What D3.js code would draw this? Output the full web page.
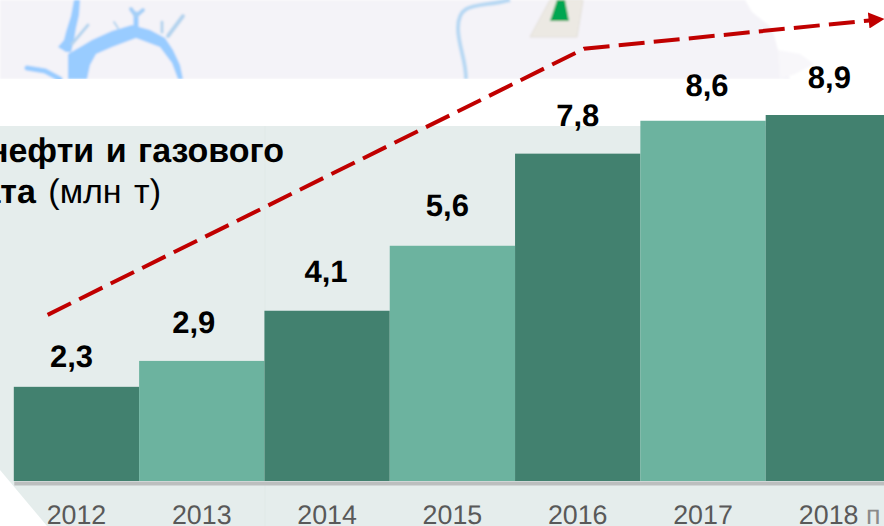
<!DOCTYPE html>
<html><head><meta charset="utf-8">
<style>html,body{margin:0;padding:0;background:#fff;overflow:hidden}svg{display:block}text{font-family:"Liberation Sans",Arial,sans-serif;text-rendering:geometricPrecision}</style>
<script src="https://cdn.jsdelivr.net/npm/d3@7/dist/d3.min.js"></script></head><body>
<script>
const years=["2012","2013","2014","2015","2016","2017","2018"];
const labels=["2,3","2,9","4,1","5,6","7,8","8,6","8,9"];
const barHeights=[2.29,2.92,4.14,5.72,7.96,8.76,8.9];
const trendSteps=[-0.23,4.05,6.33];
const trendValues=[4.04,10.51,11.2];

const W=884,H=526;
const svg=d3.select("body").append("svg").attr("width",W).attr("height",H);
const x=d3.scaleBand().domain(years).range([13.8,891]);
const y=d3.scaleLinear().domain([0,8.9]).range([481,115]);
const xStep=d3.scaleLinear().domain([0,1]).range([13.8+x.bandwidth()/2,13.8+x.bandwidth()*1.5]);

const defs=svg.append("defs");
defs.append("filter").attr("id","soft").append("feGaussianBlur").attr("stdDeviation",0.9);

// backdrop map
const map=svg.append("g").attr("filter","url(#soft)");
map.append("path").attr("d","M0,0L745,0L752,12L772,28L778,50L790,79L0,79Z").attr("fill","#f4f3f8");
map.append("path").attr("d","M778,50L800,54L814,64L795,74L780,79Z").attr("fill","#f8f7fa");
const lake="#99ccff";
map.append("path").attr("fill",lake).attr("d","M68,79L68,54L82,46L92,40L112,31L132,25L150,30L165,38L173,50L180,65L183,79L178,79L172,63L160,47L136,38L112,47L96,54L90,65L87,79Z");
map.append("path").attr("fill",lake).attr("d","M74,0L80,0L79,15L76,28L74,40L71,52L66,52L58,47L64,40L66,32L71,16Z");
[["M72,44L88,25","#b3d3ee",3],["M136,26L136,14","#99ccff",5],["M131,9L136,16L143,10","#a4cff7",4],["M162,32L162,22","#b3d3ee",3],["M168,36L183,16","#b3d3ee",4],["M118,28L114,22","#b3d3ee",2],["M27,68L45,71L60,79","#99ccff",5]]
.forEach(s=>map.append("path").attr("d",s[0]).attr("stroke",s[1]).attr("stroke-width",s[2]).attr("fill","none").attr("stroke-linecap","round"));
map.append("path").attr("d","M510,0C480,8 458,0 458,28C458,45 466,60 466,79").attr("stroke","#b7d8f3").attr("stroke-width",4).attr("fill","none");
map.append("path").attr("d","M550,0L583,0L577,37L530,37Z").attr("fill","#ece9e3").attr("stroke","#e2dfd8");
map.append("path").attr("d","M557,0L565,0L569,21L550,21Z").attr("fill","#00a651");
svg.append("rect").attr("x",0).attr("y",79).attr("width",W).attr("height",47).attr("fill","#fff");

// panel
svg.append("path").attr("d","M0,126L884,126L884,526L47,526L0,470Z").attr("fill","#e5edec");
svg.append("line").attr("x1",265).attr("x2",265).attr("y1",126).attr("y2",526).attr("stroke","#e0e9e7");

// bars
svg.append("g").selectAll("rect").data(years).join("rect")
 .attr("x",d=>x(d)).attr("width",x.bandwidth())
 .attr("y",(d,i)=>y(barHeights[i])).attr("height",(d,i)=>y(0)-y(barHeights[i]))
 .attr("fill",(d,i)=>i%2?"#6cb39f":"#42816f");

// axis
const ax=svg.append("g").attr("transform",`translate(0,${y(0)+2})`).call(d3.axisBottom(x).tickSize(0).tickPadding(21.5));
ax.select(".domain").attr("stroke","#bcbfbf").attr("stroke-width",4);
ax.selectAll("text").attr("font-size",26.8).attr("fill","#595959").attr("font-family",'"Liberation Sans",Arial,sans-serif');
ax.selectAll(".tick").filter(d=>d==="2018").select("text").attr("text-anchor","start").attr("x",-29.5).append("tspan").attr("fill","#8a8a8a").text(" п");

// value labels
const labelDx=[-5,-8,-1,-5,0,4,1], labelGap=[20,28,29,30,28,25,27];
svg.append("g").selectAll("text").data(labels).join("text")
 .attr("x",(d,i)=>x(years[i])+x.bandwidth()/2+labelDx[i])
 .attr("y",(d,i)=>y(barHeights[i])-labelGap[i])
 .attr("text-anchor","middle").attr("font-size",31).attr("font-weight",700).attr("fill","#000").text(d=>d);

// title
svg.append("text").attr("x",284).attr("y",162).attr("text-anchor","end").attr("font-size",34).attr("font-weight",700).attr("fill","#000").attr("word-spacing",2).text("нефти и газового");
const t2=svg.append("text").attr("x",161).attr("y",203).attr("text-anchor","end").attr("font-size",34).attr("fill","#000").attr("word-spacing",3);
t2.append("tspan").attr("font-weight",700).text("ата");
t2.append("tspan").text(" (млн т)");

// trend arrow
defs.append("marker").attr("id","ah").attr("viewBox","0 0 16 16").attr("refX",1).attr("refY",8).attr("markerWidth",16).attr("markerHeight",16).attr("markerUnits","userSpaceOnUse").attr("orient","auto")
 .append("path").attr("d","M0,0L16,8L0,16Z").attr("fill","#c00000");
const line=d3.line().x(d=>xStep(d[0])).y(d=>y(d[1]));
svg.append("path").attr("d",line(trendSteps.map((s,i)=>[s,trendValues[i]])))
 .attr("fill","none").attr("stroke","#c00000").attr("stroke-width",4).attr("stroke-dasharray","26,9.2").attr("marker-end","url(#ah)");
</script></body></html>
